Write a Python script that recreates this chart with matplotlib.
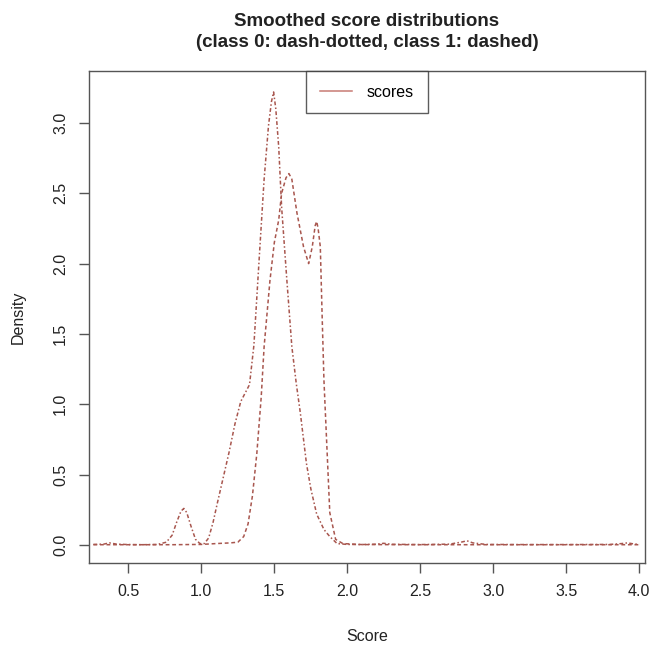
import matplotlib
matplotlib.use("Agg")
import matplotlib.pyplot as plt
from matplotlib.lines import Line2D

# ---- data ----
x_class0 = [0.26, 0.33, 0.37, 0.42, 0.50, 0.60, 0.70, 0.76, 0.80, 0.83, 0.86, 0.88,
            0.90, 0.93, 0.96, 0.99, 1.02, 1.05, 1.08, 1.11, 1.15, 1.19, 1.23, 1.27,
            1.30, 1.33, 1.36, 1.40, 1.43, 1.46, 1.48, 1.495, 1.51, 1.53, 1.55, 1.586,
            1.62, 1.65, 1.678, 1.72, 1.75, 1.79, 1.84, 1.88, 1.93, 2.00, 2.10, 2.20,
            2.25, 2.30, 2.50, 2.70, 2.78, 2.82, 2.86, 2.95, 3.20, 3.50, 3.80, 3.88,
            3.92, 3.96, 4.00]
y_class0 = [0.004, 0.006, 0.015, 0.006, 0.003, 0.002, 0.004, 0.02, 0.07, 0.16, 0.24, 0.26,
            0.23, 0.13, 0.04, 0.01, 0.01, 0.05, 0.16, 0.30, 0.48, 0.66, 0.86, 1.02,
            1.08, 1.14, 1.42, 2.10, 2.60, 2.98, 3.15, 3.22, 3.10, 2.83, 2.40, 1.88,
            1.41, 1.15, 0.94, 0.58, 0.40, 0.22, 0.11, 0.06, 0.01, 0.004, 0.003, 0.006,
            0.012, 0.005, 0.003, 0.006, 0.02, 0.03, 0.015, 0.004, 0.003, 0.003, 0.004, 0.01,
            0.015, 0.008, 0.004]

x_class1 = [0.26, 0.50, 0.80, 1.00, 1.10, 1.20, 1.25, 1.29, 1.32, 1.35, 1.38, 1.41,
            1.43, 1.47, 1.50, 1.53, 1.55, 1.58, 1.60, 1.62, 1.655, 1.70, 1.735, 1.76,
            1.78, 1.79, 1.80, 1.815, 1.827, 1.84, 1.86, 1.88, 1.92, 1.97, 2.10, 2.50,
            3.00, 3.50, 4.00]
y_class1 = [0.002, 0.002, 0.002, 0.004, 0.01, 0.015, 0.02, 0.06, 0.15, 0.35, 0.65, 1.05,
            1.41, 1.88, 2.15, 2.31, 2.50, 2.61, 2.64, 2.60, 2.36, 2.12, 2.00, 2.12,
            2.27, 2.30, 2.25, 2.12, 1.65, 1.17, 0.70, 0.23, 0.04, 0.01, 0.003, 0.002,
            0.002, 0.002, 0.002]

x_ticks = [0.5, 1.0, 1.5, 2.0, 2.5, 3.0, 3.5, 4.0]
y_ticks = [0.0, 0.5, 1.0, 1.5, 2.0, 2.5, 3.0]

line_color = "#a8564e"
axis_color = "#555555"

plt.rcParams["font.family"] = ["Liberation Sans", "DejaVu Sans"]

fig = plt.figure(figsize=(6.52, 6.48), dpi=100)
ax = fig.add_axes([89 / 652, 1 - 563 / 648, (645 - 89) / 652, (563 - 71) / 648])

ax.plot(x_class0, y_class0, color=line_color, lw=1.1, linestyle=(0, (2.5, 1.5, 1, 1.5)))
ax.plot(x_class1, y_class1, color=line_color, lw=1.1, linestyle=(0, (2.5, 1.8)))

ax.set_xlim(0.23, 4.04)
ax.set_ylim(-0.128, 3.369)
ax.set_xticks(x_ticks)
ax.set_xticklabels([f"{v:.1f}" for v in x_ticks])
ax.set_yticks(y_ticks)
ax.set_yticklabels([f"{v:.1f}" for v in y_ticks], rotation=90, va="center")

for sp in ax.spines.values():
    sp.set_color(axis_color)
    sp.set_linewidth(1.0)
ax.tick_params(axis="both", length=7, width=1.0, color=axis_color,
               labelsize=11.5, labelcolor="#222222", pad=8)

ax.set_xlabel("Score", fontsize=11.5, labelpad=22, color="#222222")
ax.set_ylabel("Density", fontsize=11.5, labelpad=20, color="#222222")

fig.suptitle("Smoothed score distributions\n(class 0: dash-dotted, class 1: dashed)",
             x=367 / 652, y=1 - 13 / 648, va="top", fontsize=13.5, fontweight="bold",
             color="#222222", linespacing=1.3)

handle = Line2D([0], [0], color="#c87a74", lw=1.1)
leg = ax.legend([handle], ["scores"], loc="upper center", bbox_to_anchor=(0.5, 1.0),
                frameon=True, fancybox=False, fontsize=11.5, borderpad=0.85,
                handlelength=2.0, handletextpad=0.95, borderaxespad=0)
leg.get_frame().set_edgecolor("#333333")
leg.get_frame().set_linewidth(1.0)

fig.savefig("out.png", dpi=100, facecolor="white")
